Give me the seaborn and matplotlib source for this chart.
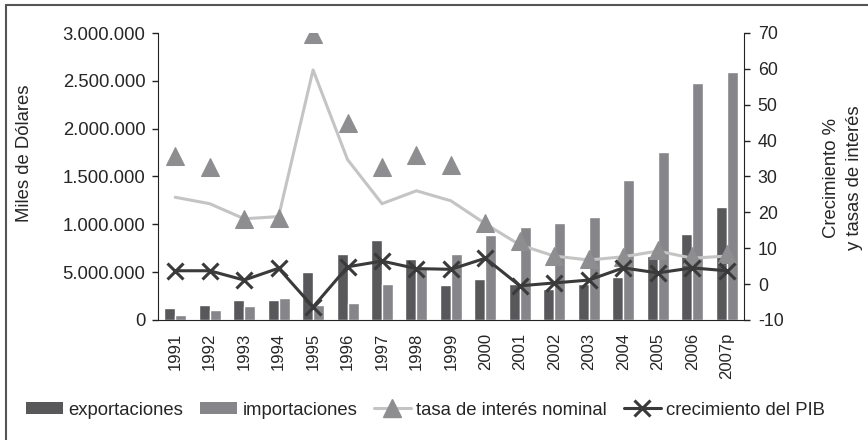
import matplotlib
matplotlib.use('Agg')
import matplotlib.pyplot as plt
import seaborn as sns
import pandas as pd
from matplotlib.patches import Patch
from matplotlib.lines import Line2D
from matplotlib.ticker import FixedLocator, FixedFormatter

years = ['1991', '1992', '1993', '1994', '1995', '1996', '1997', '1998', '1999',
         '2000', '2001', '2002', '2003', '2004', '2005', '2006', '2007p']
exportaciones = [125000, 157000, 210000, 210000, 500000, 690000, 840000, 640000, 366000,
                 430000, 376000, 324000, 376000, 450000, 670000, 900000, 1180000]
importaciones = [50000, 100000, 146000, 230000, 157000, 180000, 376000, 550000, 690000,
                 890000, 970000, 1010000, 1076000, 1460000, 1755000, 2480000, 2590000]
# light grey line drawn without markers
tasa_linea = [24.2, 22.4, 18.2, 18.8, 59.7, 34.7, 22.4, 26.0, 23.2,
              16.8, 10.9, 7.8, 6.7, 7.6, 9.2, 7.2, 7.8]
# triangles
tasa_nominal = [35.6, 32.6, 18.2, 18.5, 69.6, 44.8, 32.6, 36.1, 33.3,
                16.9, 12.0, 7.8, 6.9, 7.4, 9.4, 7.8, 8.3]
crecimiento_pib = [3.7, 3.7, 1.1, 4.4, -6.4, 4.8, 6.4, 4.3, 4.1,
                   7.2, -0.5, 0.3, 1.1, 4.5, 3.1, 4.5, 3.7]

left_ticks = [0, 500000, 1000000, 1500000, 2000000, 2500000, 3000000]
left_labels = ['0', '5.000.000', '1.000.000', '1.500.000', '2.000.000', '2.500.000', '3.000.000']
right_ticks = [-10, 0, 10, 20, 30, 40, 50, 60, 70]

c_exp = '#58585b'
c_imp = '#86868a'
c_line = '#c4c4c4'
c_tri = '#8e8e91'
c_pib = '#3a3a3a'

sns.set_style('white')
plt.rcParams['font.family'] = ['Liberation Sans', 'DejaVu Sans']
plt.rcParams['axes.unicode_minus'] = False

bars = pd.DataFrame({
    'year': years * 2,
    'valor': exportaciones + importaciones,
    'serie': ['exportaciones'] * len(years) + ['importaciones'] * len(years),
})
lines = pd.DataFrame({'year': years, 'linea': tasa_linea,
                      'nominal': tasa_nominal, 'pib': crecimiento_pib})

fig = plt.figure(figsize=(8.68, 4.4), dpi=100)
ax = fig.add_axes([0.182, 0.273, 0.675, 0.652])

sns.barplot(data=bars, x='year', y='valor', hue='serie', order=years,
            palette=[c_exp, c_imp], width=0.64, saturation=1, ax=ax, legend=False)
ax.set_ylim(0, 3000000)
ax.yaxis.set_major_locator(FixedLocator(left_ticks))
ax.yaxis.set_major_formatter(FixedFormatter(left_labels))
ax.set_xlabel('')
ax.set_ylabel('Miles de Dólares', fontsize=13.3)
ax.yaxis.set_label_coords(-0.213, 0.58)
ax.tick_params(axis='y', left=True, length=4, width=1, labelsize=13.3, pad=5, color='#222')
ax.tick_params(axis='x', bottom=False, labelsize=12, pad=6)
for lab in ax.get_xticklabels():
    lab.set_rotation(90)
for s in ['top', 'right']:
    ax.spines[s].set_visible(False)
ax.spines['left'].set_color('#222')
ax.spines['bottom'].set_color('#222')

ax2 = ax.twinx()
sns.lineplot(data=lines, x='year', y='linea', ax=ax2, color=c_line, linewidth=2.2, sort=False)
sns.lineplot(data=lines, x='year', y='nominal', ax=ax2, color=c_tri, linestyle='none',
             marker='^', markersize=13, markeredgecolor=c_tri, sort=False)
sns.lineplot(data=lines, x='year', y='pib', ax=ax2, color=c_pib, linewidth=2.2,
             marker='x', markersize=11, markeredgewidth=2.2, markeredgecolor=c_pib, sort=False)
ax2.set_ylim(-10, 70)
ax2.set_yticks(right_ticks)
ax2.set_xlim(-0.5, len(years) - 0.5)
ax.set_xlim(-0.5, len(years) - 0.5)
ax2.set_xlabel('')
ax2.set_ylabel('Crecimiento %\ny tasas de interés', fontsize=13.3, linespacing=1.45)
ax2.yaxis.set_label_coords(1.135, 0.495)
ax2.tick_params(axis='y', right=True, length=4, width=1, labelsize=12.8, pad=6, color='#222')
for s in ['top', 'left', 'bottom']:
    ax2.spines[s].set_visible(False)
ax2.spines['right'].set_color('#222')

handles = [
    Patch(facecolor=c_exp, edgecolor='none'),
    Patch(facecolor=c_imp, edgecolor='none'),
    Line2D([], [], color=c_line, linewidth=2.2, marker='^', markersize=13,
           markerfacecolor=c_tri, markeredgecolor=c_tri),
    Line2D([], [], color=c_pib, linewidth=2.2, marker='x', markersize=11, markeredgewidth=2.2),
]
labels = ['exportaciones', 'importaciones', 'tasa de interés nominal', 'crecimiento del PIB']
fig.legend(handles, labels, loc='center left', bbox_to_anchor=(26 / 868, 0.068), ncol=4,
           frameon=False, fontsize=13.3, handlelength=2.0, handletextpad=0.3,
           columnspacing=0.9, handleheight=0.65, borderpad=0, borderaxespad=0)

# frame lines on the left and top edge only
fig.add_artist(Line2D([0.007, 0.007], [0, 0.989], transform=fig.transFigure,
                      color='#555', linewidth=1.5))
fig.add_artist(Line2D([0.007, 1], [0.989, 0.989], transform=fig.transFigure,
                      color='#555', linewidth=1.5))

fig.savefig('out.png', dpi=100)
